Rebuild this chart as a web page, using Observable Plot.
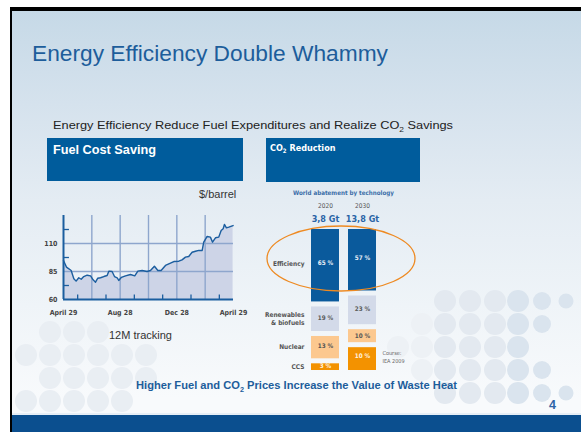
<!DOCTYPE html>
<html>
<head>
<meta charset="utf-8">
<script src="https://cdn.jsdelivr.net/npm/d3@7"></script>
<script src="https://cdn.jsdelivr.net/npm/@observablehq/plot@0.6"></script>
<style>
  html, body { margin: 0; padding: 0; background: #ffffff; overflow: hidden; }
  #slide { position: relative; width: 581px; height: 432px; overflow: hidden; background: #ffffff; }
  #frame { position: absolute; left: 10px; top: 7px; width: 571px; height: 425px;
           border-top: 4px solid #000; border-left: 2.5px solid #000; box-sizing: border-box;
           background: linear-gradient(to bottom, #c6d9e7 0%, #d5e2ed 22%, #e4ecf3 45%, #eff4f8 70%, #f8fafc 92%); }
  .layer { position: absolute; left: 0; top: 0; }
  #price { position: absolute; left: 40px; top: 205px; }
  #abate { position: absolute; left: 260px; top: 180px; }
</style>
</head>
<body>
<div id="slide">
  <div id="frame"></div>
  <svg id="deco" class="layer" width="581" height="432"></svg>
  <svg id="texts" class="layer" width="581" height="432" font-family="'Liberation Sans', Arial, sans-serif">
    <rect x="47" y="138" width="196" height="43" fill="#005c9c"></rect>
    <rect x="266" y="138" width="154" height="44" fill="#005c9c"></rect>
    <text x="32" y="61" font-size="22" fill="#1d5d9b" textLength="356" lengthAdjust="spacingAndGlyphs">Energy Efficiency Double Whammy</text>
    <text x="53" y="129.3" font-size="11.5" fill="#222" textLength="400" lengthAdjust="spacingAndGlyphs">Energy Efficiency Reduce Fuel Expenditures and Realize CO<tspan font-size="7.5" dy="2.5">2</tspan><tspan dy="-2.5"> Savings</tspan></text>
    <text x="53" y="154" font-size="12" font-weight="bold" fill="#ffffff" textLength="103" lengthAdjust="spacingAndGlyphs">Fuel Cost Saving</text>
    <text x="270" y="150.7" font-size="9" font-weight="bold" fill="#ffffff" font-family="'DejaVu Sans Condensed', sans-serif">CO<tspan font-size="6" dy="2">2</tspan><tspan dy="-2"> Reduction</tspan></text>
    <text x="199" y="198" font-size="11" fill="#333">$/barrel</text>
    <text x="109" y="339.3" font-size="11" fill="#333">12M tracking</text>
    <text x="136" y="389.3" font-size="10.8" font-weight="bold" fill="#1d5d9b" textLength="321" lengthAdjust="spacingAndGlyphs">Higher Fuel and CO<tspan font-size="7" dy="2.5">2</tspan><tspan dy="-2.5"> Prices Increase the Value of Waste Heat</tspan></text>
    <text x="549" y="409" font-size="12.5" font-weight="bold" fill="#2e64a6">4</text>
    <rect x="12" y="413" width="569" height="2" fill="#e6eef6"></rect>
    <rect x="12" y="415" width="569" height="17" fill="#0b4f8f"></rect>
  </svg>
  <div id="price"></div>
  <div id="abate"></div>
  <svg id="overlay" class="layer" width="581" height="432" style="pointer-events:none"></svg>
</div>
<script>
// ---------- Fuel price, 12 months tracking ($/barrel) ----------
const monthIndex = [0, 0.21, 0.38, 0.54, 0.73, 0.89, 1.08, 1.25, 1.43, 1.67, 1.91, 2.09, 2.26, 2.42, 2.61, 2.85,
  3.08, 3.2, 3.43, 3.6, 3.79, 3.9, 4.09, 4.38, 4.73, 5.03, 5.25, 5.55, 5.9, 6.14, 6.42, 6.66, 6.89, 7.2, 7.55,
  7.79, 8.14, 8.37, 8.61, 8.84, 9.08, 9.32, 9.55, 9.79, 9.9, 10.14, 10.37, 10.52, 10.73, 10.96, 11.13, 11.27,
  11.36, 11.5, 11.67, 11.97];
const priceValues = [94.8, 88.9, 87.4, 85.9, 78.5, 76.4, 79.4, 78.1, 80.5, 81.7, 81.1, 77.6, 75.5, 79.0, 79.4, 80.5,
  81.4, 85.3, 85.0, 80.5, 79.4, 77.0, 79.8, 81.1, 82.3, 81.1, 85.3, 85.9, 85.0, 85.9, 89.7, 85.9, 85.9, 90.4, 92.4,
  93.9, 94.2, 95.4, 97.8, 98.4, 102.2, 103.1, 103.8, 103.8, 111.2, 116.3, 115.7, 111.2, 115.1, 115.7, 121.6, 123.1,
  127.0, 124.0, 124.6, 126.0];
const xTickMonths = [0, 4, 8, 12];
const xTickLabels = ["April 29", "Aug 28", "Dec 28", "April 29"];
const gridMonths = [2, 4, 6, 8, 10];
const minorMonths = [1, 3, 5, 7, 9, 11];
const yTickValues = [60, 85, 110];
const gridPrices = [85, 110];
const minorPrices = [72.5, 97.5, 122.5];

// ---------- World abatement by technology ----------
const years = ["2020", "2030"];
const yearTotals = ["3,8 Gt", "13,8 Gt"];
const technologies = ["CCS", "Nuclear", "Renewables & biofuels", "Efficiency"];
const share2020 = [3, 13, 19, 65];
const share2030 = [10, 10, 23, 57];
const chartTitle = "World abatement by technology";
const sourceNote = "Course:\nIEA 2009";

// ---------- build tables ----------
const priceSeries = monthIndex.map((m, i) => ({m, p: priceValues[i]}));
const abatement = [];
technologies.forEach((t, i) => abatement.push({year: years[0], tech: t, share: share2020[i]}));
technologies.forEach((t, i) => abatement.push({year: years[1], tech: t, share: share2030[i]}));
const totalsTable = years.map((y, i) => ({year: y, total: yearTotals[i]}));

const techFill = {"CCS": "#f39200", "Nuclear": "#fcc88f", "Renewables & biofuels": "#d3dae9", "Efficiency": "#0a5a9c"};
const techText = {"CCS": "#fff3e0", "Nuclear": "#555555", "Renewables & biofuels": "#5a5a5a", "Efficiency": "#e6eef7"};

const blue = "#1b5e9f";
const grid = "#8ea6cd";

const priceChart = Plot.plot({
  width: 215, height: 120,
  marginLeft: 23, marginRight: 22, marginTop: 10, marginBottom: 26,
  style: {background: "transparent", fontFamily: "'DejaVu Sans Condensed', sans-serif", fontSize: "7px", fontWeight: "bold", color: "#444"},
  x: {domain: [0, 12], axis: null},
  y: {domain: [60, 135], axis: null},
  marks: [
    Plot.areaY(priceSeries, {x: "m", y: "p", fill: "#cdd4e7", clip: true}),
    Plot.ruleX(gridMonths, {stroke: grid, strokeWidth: 1.4}),
    Plot.ruleY(gridPrices, {stroke: grid, strokeWidth: 1.4}),
    Plot.lineY(priceSeries, {x: "m", y: "p", stroke: blue, strokeWidth: 1.4}),
    Plot.ruleY(minorPrices, {y: d => d, x1: 0, x2: 0.42, stroke: blue, strokeWidth: 1.3}),
    Plot.ruleX(minorMonths, {x: d => d, y1: 60, y2: 64, stroke: blue, strokeWidth: 1.3}),
    Plot.ruleY([60], {stroke: blue, strokeWidth: 2}),
    Plot.ruleX([0], {stroke: blue, strokeWidth: 2}),
    Plot.axisY({ticks: yTickValues, label: null, tickSize: 0, tickPadding: 6, fill: "#444"}),
    Plot.axisX({ticks: xTickMonths, label: null, tickFormat: (d, i) => xTickLabels[i], tickSize: 0, tickPadding: 11, fill: "#444"})
  ]
});
document.getElementById("price").appendChild(priceChart);

const abateChart = Plot.plot({
  width: 180, height: 200,
  marginLeft: 0, marginRight: 14, marginTop: 0, marginBottom: 0,
  style: {background: "transparent", fontFamily: "'DejaVu Sans Condensed', sans-serif", fontSize: "7px", fontWeight: "bold"},
  x: {type: "band", domain: years, range: [50, 116.7], paddingInner: 0.23, paddingOuter: 0, axis: null},
  y: {type: "pow", exponent: 0.72, domain: [0, 100], range: [192.5, 46.5], axis: null},
  color: {type: "identity"},
  marks: [
    Plot.barY(abatement, {x: "year", y: "share", fill: d => techFill[d.tech], insetTop: 2.5, insetBottom: 2.5}),
    Plot.text(abatement, Plot.stackY({x: "year", y: "share", text: d => d.share + " %", fill: d => techText[d.tech], fontSize: 6.3})),
    Plot.text(abatement.filter(d => d.year === years[0]), Plot.stackY({y: "share", text: d => d.tech.replace(" & ", "\n& "), frameAnchor: "left", textAnchor: "end", dx: 44, fill: "#555", fontSize: 6.5, lineHeight: 1.25})),
    Plot.text([chartTitle], {text: d => d, frameAnchor: "top", dy: 10, fill: "#3b6ea8", fontSize: 6.2}),
    Plot.text(years, {x: d => d, text: d => d, frameAnchor: "top", dy: 23, fill: "#555", fontSize: 6.5, fontWeight: "normal"}),
    Plot.text(totalsTable, {x: "year", text: "total", frameAnchor: "top", dy: 35, fill: "#2a64a6", fontSize: 9}),
    Plot.text([sourceNote], {x: () => years[1], text: d => d, frameAnchor: "bottom", dy: -18, dx: 20, textAnchor: "start", fill: "#666", fontSize: 5.5, fontWeight: "normal", lineHeight: 1.35})
  ]
});
document.getElementById("abate").appendChild(abateChart);

// ---------- decoration: orange highlight ellipse and faint circles ----------
const ns = "http://www.w3.org/2000/svg";
const ov = document.getElementById("overlay");
const el = document.createElementNS(ns, "ellipse");
el.setAttribute("cx", 341); el.setAttribute("cy", 258.5); el.setAttribute("rx", 74); el.setAttribute("ry", 32.5);
el.setAttribute("fill", "none"); el.setAttribute("stroke", "#ee8a22"); el.setAttribute("stroke-width", 1.3);
ov.appendChild(el);

const deco = document.getElementById("deco");
const dotRows = [
  [301, [445, 470, 495, 518, 542, 566]],
  [324, [422, 445, 470, 495, 518, 542]],
  [347, [398, 422, 445, 470, 495, 518]],
  [370, [422, 445, 470, 495, 518, 542]],
  [393, [445, 470, 495, 518, 542, 566]],
  [332, [50, 74, 98]],
  [355, [26, 50, 74, 98, 122, 146]],
  [378, [50, 74, 98, 122, 146]],
  [401, [26, 50, 74, 98, 122]]
];
dotRows.forEach(([cy, xs]) => xs.forEach(cx => {
  const c = document.createElementNS(ns, "circle");
  const r = cx > 560 ? 7.5 : cx > 535 ? 9 : 11;
  c.setAttribute("cx", cx); c.setAttribute("cy", cy); c.setAttribute("r", r);
  const fill = cx > 500 ? "#dae4ee" : cx > 430 ? "#e3e9f0" : cx > 200 ? "#edf1f5" : "#e9eef3";
  c.setAttribute("fill", fill);
  deco.appendChild(c);
}));
</script>
</body>
</html>
